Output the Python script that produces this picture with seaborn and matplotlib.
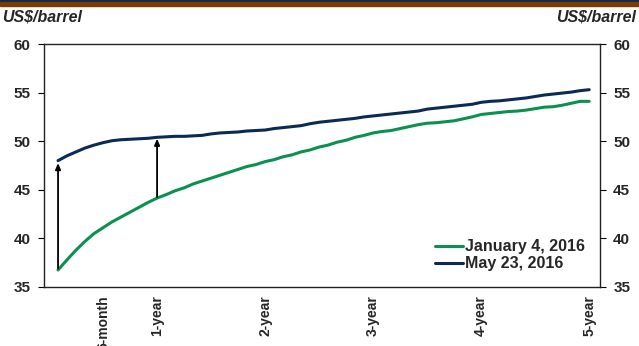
import numpy as np
import pandas as pd
import matplotlib
matplotlib.use("Agg")
import matplotlib.pyplot as plt
import seaborn as sns
from matplotlib.patches import Rectangle
from matplotlib.lines import Line2D

months = list(range(1, 61))
jan_2016 = [36.75, 37.8, 38.8, 39.7, 40.5, 41.1, 41.7, 42.2, 42.7, 43.2,
            43.7, 44.15, 44.5, 44.9, 45.2, 45.6, 45.9, 46.2, 46.5, 46.8,
            47.1, 47.4, 47.6, 47.9, 48.1, 48.4, 48.6, 48.9, 49.1, 49.4,
            49.6, 49.9, 50.1, 50.4, 50.6, 50.85, 51.0, 51.1, 51.3, 51.5,
            51.7, 51.85, 51.9, 52.0, 52.1, 52.3, 52.5, 52.75, 52.85, 52.95,
            53.05, 53.1, 53.2, 53.35, 53.5, 53.55, 53.7, 53.9, 54.1, 54.1]
may_2016 = [48.0, 48.5, 48.9, 49.3, 49.6, 49.85, 50.05, 50.15, 50.2, 50.25,
            50.3, 50.4, 50.45, 50.5, 50.5, 50.55, 50.6, 50.75, 50.85, 50.9,
            50.95, 51.05, 51.1, 51.15, 51.3, 51.4, 51.5, 51.6, 51.8, 51.95,
            52.05, 52.15, 52.25, 52.35, 52.5, 52.6, 52.7, 52.8, 52.9, 53.0,
            53.1, 53.3, 53.4, 53.5, 53.6, 53.7, 53.8, 54.0, 54.1, 54.15,
            54.25, 54.35, 54.45, 54.6, 54.75, 54.85, 54.95, 55.05, 55.2, 55.3]
series_names = ["January 4, 2016", "May 23, 2016"]
tick_months = [6, 12, 24, 36, 48, 60]
tick_labels = ["6-month", "1-year", "2-year", "3-year", "4-year", "5-year"]
y_ticks = [35, 40, 45, 50, 55, 60]
unit_label = "US$/barrel"

df = pd.DataFrame({
    "month": months * 2,
    "price": jan_2016 + may_2016,
    "series": [series_names[0]] * 60 + [series_names[1]] * 60,
})

sns.set_theme(style="white")
plt.rcParams["font.family"] = ["Liberation Sans", "DejaVu Sans"]
plt.rcParams["font.weight"] = "bold"

fig = plt.figure(figsize=(6.39, 3.46), dpi=100)
ax = fig.add_axes([44/639, 1 - 287/346, (600-44)/639, (287-44)/346])

palette = {series_names[0]: "#0A9150", series_names[1]: "#0B2A57"}
sns.lineplot(data=df, x="month", y="price", hue="series", palette=palette,
             linewidth=2.2, ax=ax, legend=False)

ax.set_xlim(-0.56, 61.2)
ax.set_ylim(35, 60)
ax.set_xlabel("")
ax.set_ylabel("")
ax.set_xticks(tick_months)
ax.set_xticklabels(tick_labels, rotation=90, fontsize=10, fontweight="bold")
ax.set_yticks(y_ticks)
ax.set_yticklabels([str(v) for v in y_ticks], fontsize=11, fontweight="bold")
ax.tick_params(axis="x", length=0, pad=6)
ax.tick_params(axis="y", length=4, width=0.8, color="black", direction="out",
               left=True, right=True, labelleft=True, labelright=True, pad=5.5)
for s in ax.spines.values():
    s.set_color("#222222")
    s.set_linewidth(1.0)

# arrows showing the shift between curves
arrow_kw = dict(arrowstyle="-|>,head_length=0.3,head_width=0.13", color="black", lw=1.3,
                shrinkA=0, shrinkB=0)
ax.annotate("", xy=(months[0], may_2016[0] - 0.25), xytext=(months[0], jan_2016[0] + 0.15),
            arrowprops=arrow_kw)
ax.annotate("", xy=(months[11], may_2016[11] - 0.15), xytext=(months[11], jan_2016[11] + 0.1),
            arrowprops=arrow_kw)

# legend
handles = [Line2D([0], [0], color=palette[n], lw=2.2) for n in series_names]
leg = ax.legend(handles, series_names, loc="lower left", frameon=False,
                bbox_to_anchor=((425 - 44) / 556, 0.025), handlelength=1.75,
                handletextpad=0.15, labelspacing=0.12, borderpad=0.1,
                prop={"weight": "bold", "size": 11.5})

fig.text(2/639, 1 - 17/346, unit_label, fontsize=11.5, fontweight="bold",
         fontstyle="italic", ha="left", va="center")
fig.text(636/639, 1 - 17/346, unit_label, fontsize=11.5, fontweight="bold",
         fontstyle="italic", ha="right", va="center")

# top band
fig.patches.append(Rectangle((0, 1 - 1.5/346), 1, 1.5/346, transform=fig.transFigure,
                             color="#10284F", zorder=5))
fig.patches.append(Rectangle((0, 1 - 6/346), 1, 4.5/346, transform=fig.transFigure,
                             color="#7A3C00", zorder=5))

fig.savefig("out.png", dpi=100)
